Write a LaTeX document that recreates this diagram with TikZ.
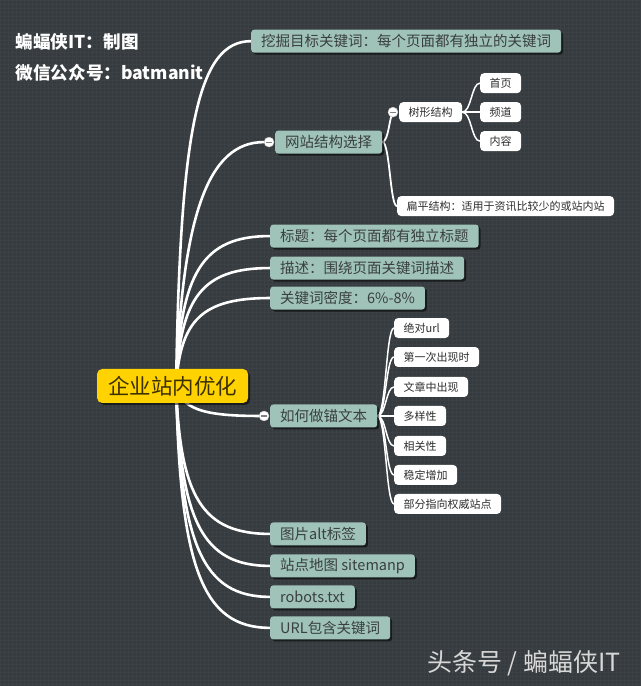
\documentclass[tikz,border=0pt]{standalone}
\usepackage{fontspec}
\setmainfont{Noto Sans CJK SC}
\usetikzlibrary{shadows}
\pgfdeclarelayer{backmost}
\pgfdeclarelayer{links}
\pgfsetlayers{backmost,links,main}
\definecolor{bgc}{HTML}{353B3E}
\definecolor{gridc}{HTML}{3B4144}
\definecolor{lone}{HTML}{9FC2B9}
\definecolor{ltxt}{HTML}{3A3F3F}
\definecolor{cyel}{HTML}{FFD200}
\definecolor{ctxt}{HTML}{3B3000}
\definecolor{wtxt}{HTML}{2E2E2E}
\definecolor{markc}{HTML}{D8D8D8}
\tikzset{
  lvlone/.style={fill=lone, text=ltxt, rounded corners=3pt, inner xsep=10pt, inner ysep=0pt,
    minimum height=23pt, anchor=west, font=\fontsize{14.5}{17}\selectfont,
    drop shadow={shadow xshift=2pt, shadow yshift=-2pt, opacity=0.55, fill=black}},
  lvltwo/.style={fill=white, text=wtxt, rounded corners=4pt, inner xsep=9.5pt, inner ysep=0pt,
    minimum height=20pt, anchor=west, font=\fontsize{11}{13}\selectfont},
  hub/.style={fill=cyel, text=ctxt, rounded corners=5pt, inner xsep=11pt, inner ysep=0pt,
    minimum height=34pt, font=\fontsize{21.5}{24}\selectfont,
    drop shadow={shadow xshift=2pt, shadow yshift=-2pt, opacity=0.55, fill=black}},
  coll/.style={circle, fill=white, draw=gray!50, line width=0.4pt, inner sep=0pt, minimum size=10pt,
    path picture={\draw[gray, line width=1.1pt] ([xshift=-3pt]path picture bounding box.center) -- ([xshift=3pt]path picture bounding box.center);}},
  wone/.style={draw=white, line width=2.6pt, line cap=round},
  wtwo/.style={draw=white, line width=1.8pt, line cap=round},
  wthree/.style={draw=white, line width=1.5pt, line cap=round},
  title/.style={anchor=west, text=white, font=\bfseries\fontsize{17.6}{20}\selectfont}
}
\begin{document}
\begin{tikzpicture}[x=1pt,y=-1pt]
\begin{pgfonlayer}{backmost}
\fill[bgc] (0,0) rectangle (640,686);
\draw[gridc, line width=0.35pt, step=4pt] (0,0) grid (640,686);
\end{pgfonlayer}
\useasboundingbox (0,0) rectangle (640,686);

% titles
\node[title] (t1) at (12,42) {蝙蝠侠IT：制图};
\node[title] (t2) at (12,73) {微信公众号：batmanit};
\node[anchor=east, text=markc, font=\fontsize{25}{29}\selectfont] (wm) at (624,663) {头条号 / 蝙蝠侠IT};

% level-1 nodes
\node[lvlone] (n1) at (251,41) {挖掘目标关键词：每个页面都有独立的关键词};
\node[lvlone] (n2) at (275,142) {网站结构选择};
\node[lvlone] (n3) at (270,236) {标题：每个页面都有独立标题};
\node[lvlone] (n4) at (270,268) {描述：围绕页面关键词描述};
\node[lvlone] (n5) at (270,298) {关键词密度：6\%-8\%};
\node[lvlone] (n6) at (270,416) {如何做锚文本};
\node[lvlone] (n7) at (270,534) {图片alt标签};
\node[lvlone] (n8) at (270,566) {站点地图 sitemanp};
\node[lvlone] (n9) at (270,597) {robots.txt};
\node[lvlone] (n10) at (270,628) {URL包含关键词};

\node[hub] (c) at (172.5,386) {企业站内优化};

% level-2 nodes
\node[lvltwo] (s1) at (399,112) {树形结构};
\node[lvltwo] (s2) at (397,206) {扁平结构：适用于资讯比较少的或站内站};
\node[lvltwo] (s11) at (480,83) {首页};
\node[lvltwo] (s12) at (480,112) {频道};
\node[lvltwo] (s13) at (480,141) {内容};

\node[lvltwo] (a1) at (394,328) {绝对url};
\node[lvltwo] (a2) at (394,357) {第一次出现时};
\node[lvltwo] (a3) at (394,387) {文章中出现};
\node[lvltwo] (a4) at (394,416) {多样性};
\node[lvltwo] (a5) at (394,446) {相关性};
\node[lvltwo] (a6) at (394,475) {稳定增加};
\node[lvltwo] (a7) at (394,504) {部分指向权威站点};

% collapse marks
\node[coll] (k2) at (269,142) {};
\node[coll] (k6) at (264,416) {};
\node[coll] (k21) at (393,112) {};

\begin{pgfonlayer}{links}
\coordinate (o) at (176,386);
\draw[wone] (o) .. controls (180,127) and (198,41) .. (n1.west);
\draw[wone] (o) .. controls (182,215) and (208,142) .. (k2.west);
\draw[wone] (o) .. controls (180,273) and (202,236) .. (n3.west);
\draw[wone] (o) .. controls (180,297) and (202,268) .. (n4.west);
\draw[wone] (o) .. controls (180,320) and (202,298) .. (n5.west);
\draw[wone] (o) .. controls (182,408) and (200,416) .. (k6.west);
\draw[wone] (o) .. controls (180,497) and (202,534) .. (n7.west);
\draw[wone] (o) .. controls (180,521) and (202,566) .. (n8.west);
\draw[wone] (o) .. controls (180,544) and (202,597) .. (n9.west);
\draw[wone] (o) .. controls (180,567) and (202,628) .. (n10.west);

\draw[wtwo] (n2.east) .. controls (389,140) and (389,118) .. (k21.center);
\draw[wtwo] (n2.east) .. controls (390,142) and (390,206) .. (s2.west);
\foreach \t/\yy in {s11/83,s12/112,s13/141}
  \draw[wthree] (s1.east) .. controls (471.5,112) and (471.5,\yy) .. (\t.west);
\foreach \t/\yy in {a1/328,a2/357,a3/387,a4/416,a5/446,a6/475,a7/504}
  \draw[wthree] (n6.east) .. controls (386,416) and (386,\yy) .. (\t.west);
\end{pgfonlayer}
\end{tikzpicture}
\end{document}
